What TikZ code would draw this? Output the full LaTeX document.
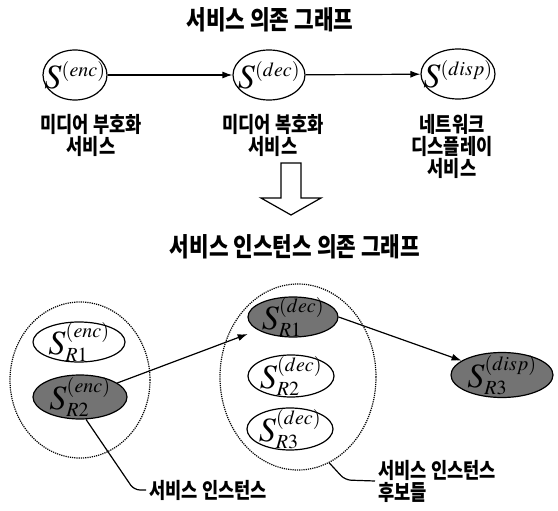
\documentclass[tikz,border=0pt]{standalone}
\usepackage{mathptmx}
\usepackage{fontspec}
\newfontfamily\krfont{Noto Sans CJK KR}[FakeStretch=0.82]
\DeclareMathSizes{34}{34}{20}{15}
\usetikzlibrary{shapes.geometric, arrows.meta, positioning}

\begin{document}
\begin{tikzpicture}[x=1pt, y=-1pt,
    >={Latex[length=10pt,width=7pt]},
    every label/.style={font=\fontsize{34}{36}\selectfont, inner sep=0pt},
    svc/.style={ellipse, draw, line width=1.2pt, inner sep=0pt, minimum height=50pt},
    inst/.style={ellipse, draw, line width=1.2pt, inner sep=0pt},
    pick/.style={inst, fill=black!55},
    group/.style={ellipse, draw, densely dotted, line width=1.2pt, inner sep=0pt},
    ttl/.style={font=\krfont\bfseries\fontsize{26}{28}\selectfont},
    lbl/.style={font=\krfont\bfseries\fontsize{21.5}{22}\selectfont, align=center}]
    \useasboundingbox (0,0) rectangle (558,511);

    % Service dependency graph
        \node[ttl] (title1) at (270,20) {서비스 의존 그래프};
        \node[svc,
              minimum width=64pt,
              label={center:$S^{(enc)}$}] (enc) at (75,75) {};
        \node[svc,
              minimum width=72pt,
              label={center:$S^{(dec)}$}] (dec) at (269,75) {};
        \node[svc,
              minimum width=74pt,
              label={center:$S^{(disp)}$}] (disp) at (458,74) {};

        \node[lbl] (encTxt) at (91,135) {미디어 부호화\\서비스};
        \node[lbl] (decTxt) at (273,135) {미디어 복호화\\서비스};
        \node[lbl] (dispTxt) at (452,146) {네트워크\\디스플레이\\서비스};

    \draw[->, line width=1.2pt]
            (enc) edge (dec)
            (dec) edge (disp);

    % Hollow arrow
    \draw[line width=1.2pt] (281,163) -- (301,163) -- (301,198) -- (321,198)
        -- (291,215) -- (261,198) -- (281,198) -- cycle;

    % Service instance dependency graph
        \node[ttl] (title2) at (295,247) {서비스 인스턴스 의존 그래프};

        \node[group,
              minimum width=140pt,
              minimum height=156pt] (grpA) at (80,380) {};
        \node[inst,
              minimum width=92pt,
              minimum height=40pt,
              label={center:$S^{(enc)}_{R1}$}] (encR1) at (79,342) {};
        \node[pick,
              minimum width=94pt,
              minimum height=44pt,
              label={center:$S^{(enc)}_{R2}$}] (encR2) at (80,397) {};

        \node[group,
              minimum width=156pt,
              minimum height=186pt] (grpB) at (298,377) {};
        \node[pick,
              minimum width=90pt,
              minimum height=40pt,
              label={center:$S^{(dec)}_{R1}$}] (decR1) at (293,317) {};
        \node[inst,
              minimum width=86pt,
              minimum height=42pt,
              label={center:$S^{(dec)}_{R2}$}] (decR2) at (291,376) {};
        \node[inst,
              minimum width=86pt,
              minimum height=42pt,
              label={center:$S^{(dec)}_{R3}$}] (decR3) at (290,429) {};

        \node[pick,
              minimum width=102pt,
              minimum height=45pt,
              label={center:$S^{(disp)}_{R3}$}] (dispR3) at (502,375) {};

        \node[lbl, anchor=west] (tag) at (146,490) {서비스 인스턴스};
        \node[lbl, anchor=west, align=left] (cand) at (375,481) {서비스 인스턴스\\후보들};

    \draw[->, line width=1.2pt, shorten >=11pt] (encR2) -- (decR1);
    \draw[->, line width=1.2pt] (decR1.east) -- (dispR3);

    \draw[line width=1.2pt, rounded corners=6pt] (encR2.285) -- (134,490) -- (tag.west);
    \draw[line width=1.2pt, rounded corners=6pt] (grpB.290) -- (345,480) -- (cand.west);
\end{tikzpicture}
\end{document}
